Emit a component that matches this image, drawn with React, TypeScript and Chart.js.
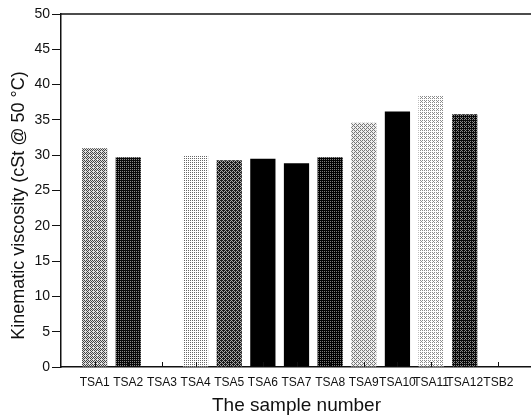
import React, { useEffect, useRef } from "react";
import { Chart, registerables } from "chart.js";

Chart.register(...registerables);

// ---- data ----
const categories: string[] = ["", "TSA1", "TSA2", "TSA3", "TSA4", "TSA5", "TSA6", "TSA7", "TSA8", "TSA9", "TSA10", "TSA11", "TSA12", "TSB2", ""];
const viscosity: (number | null)[] = [null, 31.0, 29.7, null, 29.9, 29.3, 29.5, 28.85, 29.7, 34.6, 36.2, 38.4, 35.8, null, null];
const yTicks: number[] = [0, 5, 10, 15, 20, 25, 30, 35, 40, 45, 50];

// ---- styles (halftone fills per bar) ----
type Fill = { fg: string; bg: string; d: number };
const fills: (Fill | null)[] = [
  null,
  { fg: "#444", bg: "#e0e0e0", d: 0.45 },
  { fg: "#0a0a0a", bg: "#8a8a8a", d: 0.72 },
  null,
  { fg: "#666", bg: "#ffffff", d: 0.22 },
  { fg: "#1a1a1a", bg: "#a8a8a8", d: 0.6 },
  { fg: "#000", bg: "#000", d: 1 },
  { fg: "#000", bg: "#000", d: 1 },
  { fg: "#000", bg: "#7a7a7a", d: 0.78 },
  { fg: "#777", bg: "#eeeeee", d: 0.4 },
  { fg: "#000", bg: "#000", d: 1 },
  { fg: "#8a8a8a", bg: "#ffffff", d: 0.3 },
  { fg: "#0a0a0a", bg: "#8a8a8a", d: 0.7 },
  null,
  null,
];

const bayer = [
  [0, 8, 2, 10],
  [12, 4, 14, 6],
  [3, 11, 1, 9],
  [15, 7, 13, 5],
];

function makePattern(ctx: CanvasRenderingContext2D, f: Fill | null): CanvasPattern | string {
  if (!f) return "rgba(0,0,0,0)";
  const c = document.createElement("canvas");
  c.width = 4;
  c.height = 4;
  const g = c.getContext("2d")!;
  for (let y = 0; y < 4; y++) {
    for (let x = 0; x < 4; x++) {
      g.fillStyle = (bayer[y][x] + 0.5) / 16 < f.d ? f.fg : f.bg;
      g.fillRect(x, y, 1, 1);
    }
  }
  return ctx.createPattern(c, "repeat") || f.fg;
}

const FONT = "'Liberation Sans', Arial, Helvetica, sans-serif";

const framePlugin = {
  id: "frame",
  afterDatasetsDraw(chart: any) {
    const { ctx, chartArea, scales } = chart;
    ctx.save();
    ctx.strokeStyle = "#111";
    ctx.lineWidth = 1.5;
    ctx.beginPath();
    ctx.moveTo(chartArea.left, chartArea.top);
    ctx.lineTo(chartArea.right + 10, chartArea.top);
    ctx.stroke();
    // inward x tick marks
    const xs = scales.x;
    ctx.lineWidth = 1;
    ctx.beginPath();
    categories.forEach((c, i) => {
      if (!c) return;
      const px = Math.round(xs.getPixelForValue(i)) + 0.5;
      ctx.moveTo(px, chartArea.bottom);
      ctx.lineTo(px, chartArea.bottom - 5);
    });
    ctx.stroke();
    ctx.restore();
  },
};

export default function App() {
  const ref = useRef<HTMLCanvasElement | null>(null);
  useEffect(() => {
    const canvas = ref.current!;
    const ctx = canvas.getContext("2d")!;
    const bg = fills.map((f) => makePattern(ctx, f));
    const chart = new Chart(canvas, {
      type: "bar",
      data: {
        labels: categories,
        datasets: [
          {
            data: viscosity,
            backgroundColor: bg as any,
            borderWidth: 0,
            categoryPercentage: 1,
            barPercentage: 0.75,
          },
        ],
      },
      options: {
        animation: false,
        responsive: false,
        devicePixelRatio: 1,
        layout: { padding: { left: 0, top: 14, right: 7, bottom: 0 } },
        plugins: { legend: { display: false }, tooltip: { enabled: false } },
        scales: {
          x: {
            offset: false,
            grid: { display: true, drawOnChartArea: false, drawTicks: false },
            border: { color: "#111", width: 1.5 },
            ticks: {
              autoSkip: false,
              maxRotation: 0,
              minRotation: 0,
              padding: 8,
              color: "#111",
              font: { family: FONT, size: 12 },
            },
            title: {
              display: true,
              text: "The sample number",
              color: "#111",
              font: { family: FONT, size: 19 },
              padding: { top: 0, bottom: 0 },
            },
            afterFit: (s: any) => {
              s.height = 50;
            },
          },
          y: {
            min: 0,
            max: 50,
            afterBuildTicks: (s: any) => {
              s.ticks = yTicks.map((v) => ({ value: v }));
            },
            grid: { drawOnChartArea: false, drawTicks: true, tickLength: 9, color: "#111" },
            border: { color: "#111", width: 1.5 },
            ticks: {
              padding: 2,
              color: "#111",
              font: { family: FONT, size: 14 },
            },
            title: {
              display: true,
              text: "Kinematic viscosity (cSt @ 50 °C)      ",
              color: "#111",
              font: { family: FONT, size: 18 },
              padding: { top: 8, bottom: 0 },
            },
            afterFit: (s: any) => {
              s.width = 61;
            },
          },
        },
      },
      plugins: [framePlugin],
    });
    return () => chart.destroy();
  }, []);
  return (
    <div style={{ position: "fixed", left: 0, top: 0, width: 531, height: 417, overflow: "hidden", background: "#fff" }}>
      <canvas ref={ref} width={540} height={417} style={{ display: "block" }} />
    </div>
  );
}
